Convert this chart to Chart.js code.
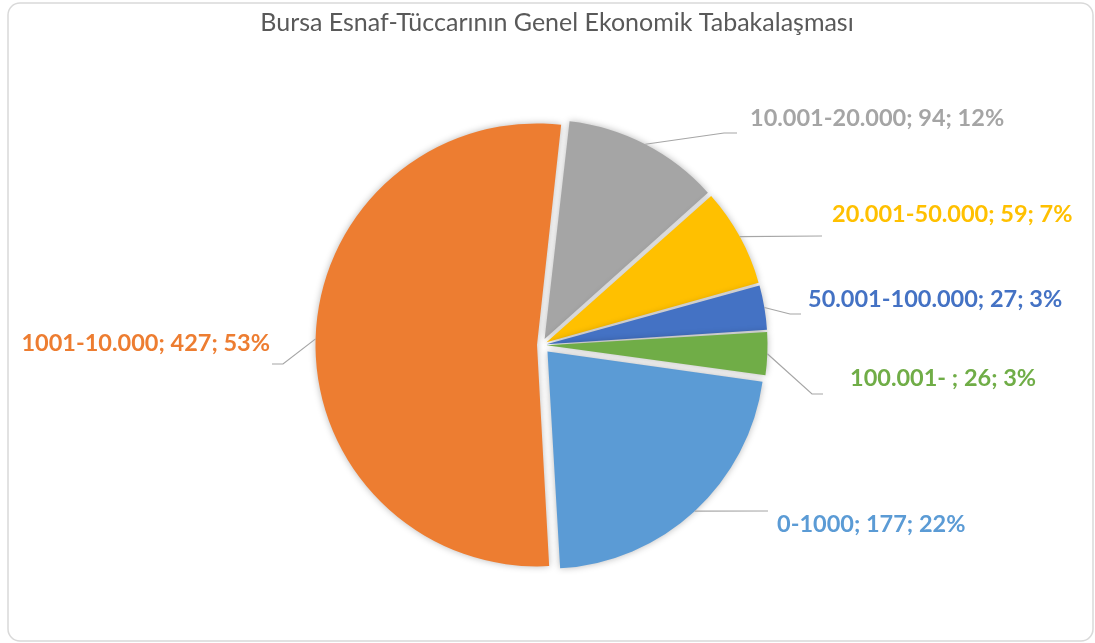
<!DOCTYPE html>
<html>
<head>
<meta charset="utf-8">
<title>Bursa Esnaf-Tüccarının Genel Ekonomik Tabakalaşması</title>
<script src="https://cdn.jsdelivr.net/npm/chart.js@4/dist/chart.umd.min.js"></script>
<style>
    html, body { margin: 0; padding: 0; background: #ffffff; }
    #wrap { width: 1095px; height: 643px; }
</style>
</head>
<body>
<div id="wrap"><canvas id="pieChart" width="1095" height="643"></canvas></div>
<script>
// Data
const TITLE = 'Bursa Esnaf-Tüccarının Genel Ekonomik Tabakalaşması';
const categories = ['0-1000', '1001-10.000', '10.001-20.000', '20.001-50.000', '50.001-100.000', '100.001- '];
const counts = [177, 427, 94, 59, 27, 26];
const percentLabels = ['22%', '53%', '12%', '7%', '3%', '3%'];

// Styles
const sliceColors = ['#5B9BD5', '#ED7D31', '#A5A5A5', '#FFC000', '#4472C4', '#70AD47'];
const labelFont = 'bold 23.5px Lato';
const titleFont = '25px Lato';
const EXPLODE = 9; // px each slice is pulled out

// Label layout: text anchor, elbow and end of leader line
const labelLayout = [
    { tx: 777, ty: 524, align: 'left',  elbow: [768, 511], end: [768, 511] },
    { tx: 270, ty: 343, align: 'right', elbow: [283, 364], end: [272, 364] },
    { tx: 750, ty: 118, align: 'left',  elbow: [724, 133], end: [737, 133] },
    { tx: 832, ty: 214, align: 'left',  elbow: [822, 236], end: [822, 236] },
    { tx: 808, ty: 299, align: 'left',  elbow: [790, 314], end: [801, 314] },
    { tx: 850, ty: 378, align: 'left',  elbow: [812, 394], end: [823, 394] }
];

// Chart.js moves an arc by offset/4 * (1 + fix); pick offset so every slice moves EXPLODE px
function sliceCircumference(i) {
    const total = counts.reduce((a, b) => a + b, 0);
    return counts[i] / total * Math.PI * 2;
}
function offsetFor(i) {
    const fix = 1 - Math.sin(Math.min(Math.PI, sliceCircumference(i)));
    return EXPLODE * 4 / (1 + fix);
}

// Frame + title
const framePlugin = {
    id: 'frame',
    beforeDraw(chart) {
        const ctx = chart.ctx;
        ctx.save();
        ctx.fillStyle = '#ffffff';
        ctx.fillRect(0, 0, chart.width, chart.height);
        ctx.strokeStyle = '#D9D9D9';
        ctx.lineWidth = 1.5;
        ctx.beginPath();
        ctx.roundRect(8, 3, 1085, 638, 12);
        ctx.stroke();
        ctx.fillStyle = '#595959';
        ctx.font = titleFont;
        ctx.textAlign = 'center';
        ctx.textBaseline = 'alphabetic';
        ctx.fillText(TITLE, 557, 31);
        ctx.restore();
    }
};

// Soft shadow under slices
const shadowPlugin = {
    id: 'sliceShadow',
    beforeDatasetsDraw(chart) {
        const ctx = chart.ctx;
        ctx.save();
        ctx.shadowColor = 'rgba(0, 0, 0, 0.28)';
        ctx.shadowBlur = 7;
    },
    afterDatasetsDraw(chart) {
        chart.ctx.restore();
    }
};

// Outside labels with leader lines
const labelPlugin = {
    id: 'outsideLabels',
    afterDatasetsDraw(chart) {
        const ctx = chart.ctx;
        const meta = chart.getDatasetMeta(0);
        ctx.save();
        meta.data.forEach((arc, i) => {
            const p = arc.getProps(['x', 'y', 'startAngle', 'endAngle', 'outerRadius'], true);
            const mid = (p.startAngle + p.endAngle) / 2;
            const r = p.outerRadius + EXPLODE;
            const sx = p.x + Math.cos(mid) * r;
            const sy = p.y + Math.sin(mid) * r;
            const lay = labelLayout[i];

            ctx.strokeStyle = '#A6A6A6';
            ctx.lineWidth = 1.2;
            ctx.beginPath();
            ctx.moveTo(sx, sy);
            ctx.lineTo(lay.elbow[0], lay.elbow[1]);
            ctx.lineTo(lay.end[0], lay.end[1]);
            ctx.stroke();

            ctx.fillStyle = sliceColors[i];
            ctx.font = labelFont;
            ctx.textAlign = lay.align;
            ctx.textBaseline = 'middle';
            ctx.fillText(categories[i] + '; ' + counts[i] + '; ' + percentLabels[i], lay.tx, lay.ty);
        });
        ctx.restore();
    }
};

const ctx = document.getElementById('pieChart').getContext('2d');
const pieChart = new Chart(ctx, {
    type: 'pie',
    data: {
        labels: categories,
        datasets: [{
            data: counts,
            backgroundColor: sliceColors,
            borderWidth: 0,
            offset: (c) => offsetFor(c.dataIndex)
        }]
    },
    options: {
        responsive: false,
        animation: false,
        rotation: 98,
        radius: 217,
        layout: { padding: { left: 0, right: 12, top: 60, bottom: 13 } },
        plugins: {
            legend: { display: false },
            title: { display: false },
            tooltip: { enabled: false }
        }
    },
    plugins: [framePlugin, shadowPlugin, labelPlugin]
});
</script>
</body>
</html>
